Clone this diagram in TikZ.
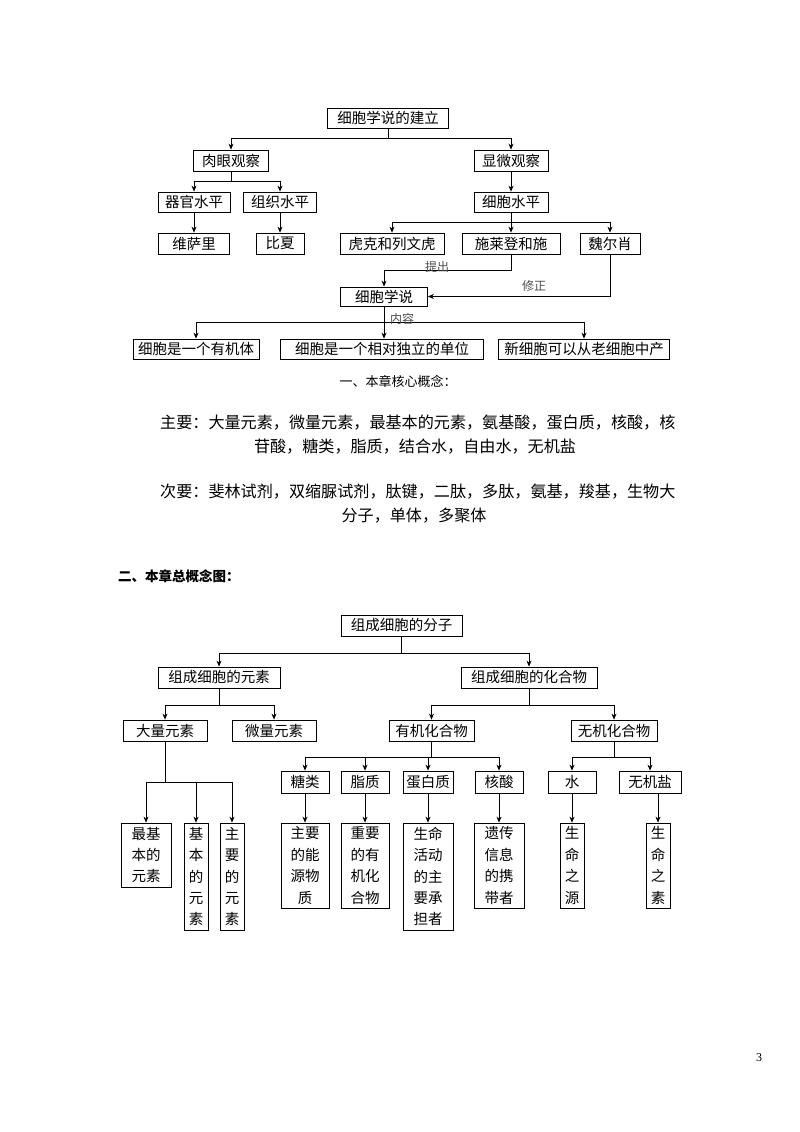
\documentclass[tikz,border=0pt]{standalone}
\usepackage{fontspec}
\setmainfont{Noto Sans CJK SC}
\newfontfamily\serifnum{Liberation Serif}
\usetikzlibrary{arrows.meta}
\tikzset{
  box/.style={draw=black, line width=0.8pt, inner sep=0pt, font=\fontsize{14.5}{21.4}\selectfont, align=center},
  conn/.style={line width=0.7pt, draw=black},
  arr/.style={conn, -{Stealth[length=6pt,width=5pt]}},
  lbl/.style={font=\fontsize{12}{14}\selectfont, text=black!70, inner sep=0pt},
  para/.style={font=\fontsize{16.1}{18}\selectfont, inner sep=0pt}
}
\begin{document}
\begin{tikzpicture}[x=1pt,y=-1pt]
\useasboundingbox (0,0) rectangle (800,1132);
\fill[white] (0,0) rectangle (800,1132);

% ---------- top diagram ----------
\node[box, minimum width=121, minimum height=20] (jianli) at (388,118) {细胞学说的建立};
\node[box, minimum width=75, minimum height=21] (rouyan) at (231,160.5) {肉眼观察};
\node[box, minimum width=74, minimum height=21] (xianwei) at (511,160.5) {显微观察};
\node[box, minimum width=72, minimum height=20] (qiguan) at (194,202) {器官水平};
\node[box, minimum width=73, minimum height=20] (zuzhi) at (280,202) {组织水平};
\node[box, minimum width=74, minimum height=20] (xbsp) at (511,202) {细胞水平};
\node[box, minimum width=71, minimum height=21] (weisali) at (194,243.5) {维萨里};
\node[box, minimum width=48, minimum height=21] (bixia) at (280,243.5) {比夏};
\node[box, minimum width=104, minimum height=21] (huke) at (392,243.5) {虎克和列文虎};
\node[box, minimum width=98, minimum height=21] (shilai) at (511,243.5) {施莱登和施};
\node[box, minimum width=60, minimum height=21] (weier) at (610,243.5) {魏尔肖};
\node[box, minimum width=87, minimum height=19] (xueshuo) at (384,296.5) {细胞学说};
\node[box, minimum width=126, minimum height=20] (youjiti) at (196,349) {细胞是一个有机体};
\node[box, minimum width=203, minimum height=20] (duli) at (382,349) {细胞是一个相对独立的单位};
\node[box, minimum width=171, minimum height=20] (xinxb) at (584,349) {新细胞可以从老细胞中产};

\draw[conn] (jianli.south) -- ++(0,10) coordinate (j1);
\draw[arr] (j1) -| (rouyan.north);
\draw[arr] (j1) -| (xianwei.north);
\draw[conn] (rouyan.south) -- ++(0,10) coordinate (j2);
\draw[arr] (j2) -| (qiguan.north);
\draw[arr] (j2) -| (zuzhi.north);
\draw[arr] (xianwei.south) -- (xbsp.north);
\draw[arr] (qiguan.south) -- (weisali.north);
\draw[arr] (zuzhi.south) -- (bixia.north);
\draw[conn] (xbsp.south) -- ++(0,10) coordinate (j3);
\draw[arr] (j3) -| (huke.north);
\draw[arr] (j3) -| (shilai.north);
\draw[arr] (j3) -| (weier.north);
\draw[arr] (shilai.south) -- ++(0,16) coordinate (j4) -| (xueshuo.north);
\draw[arr] (weier.south) |- (xueshuo.east);
\draw[conn] (xueshuo.south) -- ++(0,16) coordinate (j5);
\draw[arr] (j5) -| (youjiti.north);
\draw[arr] (j5) -- (duli.north -| j5);
\draw[arr] (j5) -| (xinxb.north);
\node[lbl] (tichu) at (437,266.5) {提出};
\node[lbl] (xiuzheng) at (534,286) {修正};
\node[lbl] (neirong) at (402,318.5) {内容};

% ---------- text ----------
\node[font=\fontsize{13}{15}\selectfont, inner sep=0pt] (h1) at (398,381) {一、本章核心概念：};
\node[para, anchor=west] (p1) at (160,423) {主要：大量元素，微量元素，最基本的元素，氨基酸，蛋白质，核酸，核};
\node[para] (p2) at (415,447) {苷酸，糖类，脂质，结合水，自由水，无机盐};
\node[para, anchor=west] (p3) at (160,492) {次要：斐林试剂，双缩脲试剂，肽键，二肽，多肽，氨基，羧基，生物大};
\node[para] (p4) at (414,516) {分子，单体，多聚体};
\node[font=\fontsize{13.5}{15}\selectfont\bfseries, inner sep=0pt, anchor=west] (h2) at (118,576) {二、本章总概念图：};

% ---------- bottom diagram ----------
\node[box, minimum width=121, minimum height=21] (fenzi) at (401.5,625.5) {组成细胞的分子};
\node[box, minimum width=122, minimum height=21] (yuansu) at (219,677.5) {组成细胞的元素};
\node[box, minimum width=136, minimum height=21] (huahe) at (529,677.5) {组成细胞的化合物};
\node[box, minimum width=84, minimum height=21] (daliang) at (165,730.5) {大量元素};
\node[box, minimum width=84, minimum height=21] (weiliang) at (274,730.5) {微量元素};
\node[box, minimum width=85, minimum height=21] (youji) at (431.5,730.5) {有机化合物};
\node[box, minimum width=86, minimum height=21] (wuji) at (614,730.5) {无机化合物};
\node[box, minimum width=48, minimum height=22] (tang) at (305,782) {糖类};
\node[box, minimum width=48, minimum height=22] (zhizhi) at (365,782) {脂质};
\node[box, minimum width=50, minimum height=22] (danbai) at (428,782) {蛋白质};
\node[box, minimum width=48, minimum height=22] (hesuan) at (499,782) {核酸};
\node[box, minimum width=48, minimum height=22] (shui) at (572,782) {水};
\node[box, minimum width=62, minimum height=22] (wujiyan) at (650,782) {无机盐};

\node[box, minimum width=50, minimum height=64] (l1) at (146,855) {最基\\本的\\元素};
\node[box, minimum width=24, minimum height=107] (l2) at (196,876.5) {基\\本\\的\\元\\素};
\node[box, minimum width=24, minimum height=107] (l3) at (232,876.5) {主\\要\\的\\元\\素};
\node[box, minimum width=48, minimum height=85] (l4) at (305,865.5) {主要\\的能\\源物\\质};
\node[box, minimum width=48, minimum height=85] (l5) at (365,865.5) {重要\\的有\\机化\\合物};
\node[box, minimum width=50, minimum height=107] (l6) at (428,876.5) {生命\\活动\\的主\\要承\\担者};
\node[box, minimum width=50, minimum height=85] (l7) at (499,865.5) {遗传\\信息\\的携\\带者};
\node[box, minimum width=24, minimum height=85] (l8) at (572,865.5) {生\\命\\之\\源};
\node[box, minimum width=24, minimum height=85] (l9) at (658,865.5) {生\\命\\之\\素};

\draw[conn] (fenzi.south) -- ++(0,17) coordinate (k1);
\draw[arr] (k1) -| (yuansu.north);
\draw[arr] (k1) -| (huahe.north);
\draw[conn] (yuansu.south) -- ++(0,17) coordinate (k2);
\draw[arr] (k2) -| (daliang.north);
\draw[arr] (k2) -| (weiliang.north);
\draw[conn] (huahe.south) -- ++(0,17) coordinate (k3);
\draw[arr] (k3) -| (youji.north);
\draw[arr] (k3) -| (wuji.north);
\draw[conn] (youji.south) -- ++(0,16) coordinate (k4);
\draw[arr] (k4) -| (tang.north);
\draw[arr] (k4) -| (zhizhi.north);
\draw[arr] (k4) -| (danbai.north);
\draw[arr] (k4) -| (hesuan.north);
\draw[conn] (wuji.south) -- ++(0,16) coordinate (k5);
\draw[arr] (k5) -| (shui.north);
\draw[arr] (k5) -| (wujiyan.north);
\draw[conn] (daliang.south) -- ++(0,41) coordinate (k6);
\draw[arr] (k6) -| (l1.north);
\draw[arr] (k6) -| (l2.north);
\draw[arr] (k6) -| (l3.north);
\draw[arr] (tang.south) -- (l4.north);
\draw[arr] (zhizhi.south) -- (l5.north);
\draw[arr] (danbai.south) -- (l6.north);
\draw[arr] (hesuan.south) -- (l7.north);
\draw[arr] (shui.south) -- (l8.north);
\draw[arr] (l9.north |- wujiyan.south) -- (l9.north);

\node[font=\serifnum\fontsize{12}{14}\selectfont, inner sep=0pt] (pg) at (759,1058) {3};
\end{tikzpicture}
\end{document}
